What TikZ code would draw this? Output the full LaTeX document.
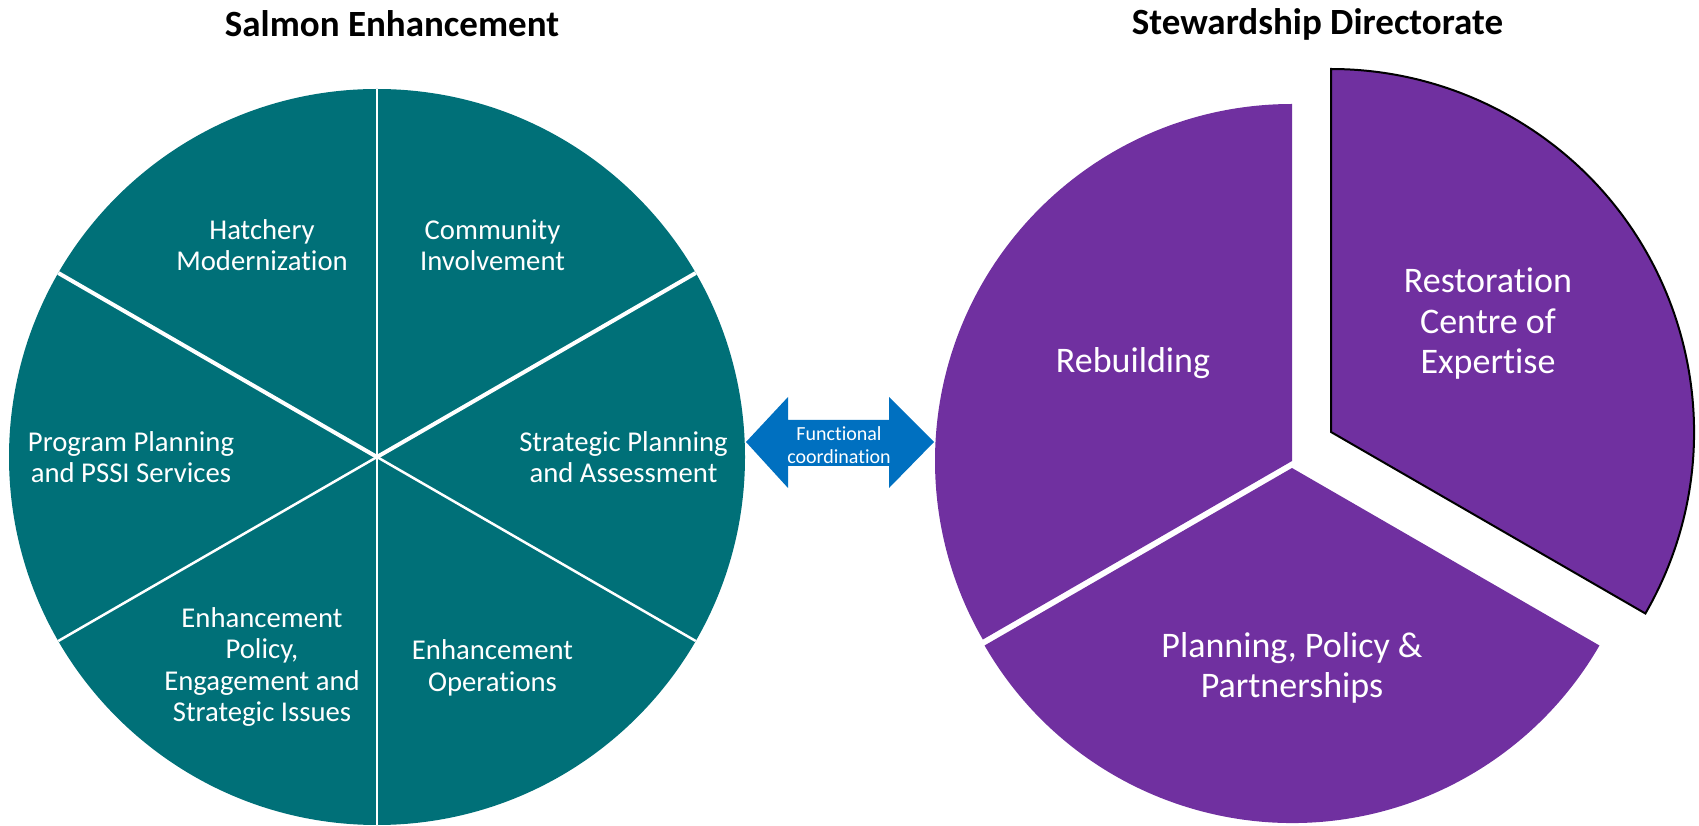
\documentclass[tikz,border=0pt]{standalone}
\usepackage{fontspec}
\setmainfont[Ligatures=NoCommon]{Carlito}
\definecolor{teal1}{RGB}{0,112,120}
\definecolor{purp}{RGB}{112,48,160}
\definecolor{blu}{RGB}{0,112,192}
\tikzset{
  lbl/.style={text=white, align=center, inner sep=0pt, font=\fontsize{28.7}{31.5}\selectfont},
  biglbl/.style={text=white, align=center, inner sep=0pt, font=\fontsize{36}{40.5}\selectfont},
  ttl/.style={text=black, inner sep=0pt, font=\fontsize{37}{44}\selectfont\bfseries},
  arrlbl/.style={text=white, align=center, inner sep=0pt, font=\fontsize{20}{23}\selectfont},
  sep/.style={draw=white, line cap=butt}
}
\begin{document}
\begin{tikzpicture}[x=1pt,y=1pt]
\useasboundingbox (0,0) rectangle (1699,825);
% ---------- left circle ----------
\coordinate (lc) at (377,368);
\fill[teal1] (lc) circle[radius=368];
\draw[sep, line width=2pt] (lc) -- ++(90:368);
\draw[sep, line width=2pt] (lc) -- ++(270:368);
\draw[sep, line width=4pt] (lc) -- ++(30:368);
\draw[sep, line width=4pt] (lc) -- ++(150:368);
\draw[sep, line width=2.5pt] (lc) -- ++(210:368);
\draw[sep, line width=2.5pt] (lc) -- ++(330:368);
\node[lbl] (hm) at (262,580) {Hatchery\\Modernization};
\node[lbl] (ci) at (492.5,580) {Community\\Involvement};
\node[lbl] (pp) at (131,368) {Program Planning\\and PSSI Services};
\node[lbl] (sp) at (623.5,368) {Strategic Planning\\and Assessment};
\node[lbl] (ep) at (262,158) {Enhancement\\Policy,\\Engagement and\\Strategic Issues};
\node[lbl] (eo) at (492.5,157) {Enhancement\\Operations};
\node[ttl] (t1) at (392,801) {Salmon Enhancement};
% ---------- right pie ----------
\coordinate (rb) at (1292,364);
\coordinate (pl) at (1292,357);
\coordinate (rs) at (1331,393);
\fill[purp] (rb) -- ++(90:357) arc[start angle=90, end angle=210, radius=357] -- cycle;
\fill[purp] (pl) -- ++(210:355) arc[start angle=210, end angle=330, radius=355] -- cycle;
\filldraw[fill=purp, draw=black, line width=2pt, line join=miter] (rs) -- ++(-30:363) arc[start angle=-30, end angle=90, radius=363] -- cycle;
\node[biglbl] (rbl) at (1133,462) {Rebuilding};
\node[biglbl] (rsl) at (1488,501) {Restoration\\Centre of\\Expertise};
\node[biglbl] (ppl) at (1292,157) {Planning, Policy \&\\Partnerships};
\node[ttl] (t2) at (1317.5,801) {Stewardship Directorate};
% ---------- double arrow ----------
\fill[blu] (746,383) -- (788,428) -- (788,405) -- (889,405) -- (889,428) -- (934,383)
  -- (889,337) -- (889,359) -- (788,359) -- (788,337) -- cycle;
\node[arrlbl] (fc) at (839,380) {Functional\\coordination};
\end{tikzpicture}
\end{document}
